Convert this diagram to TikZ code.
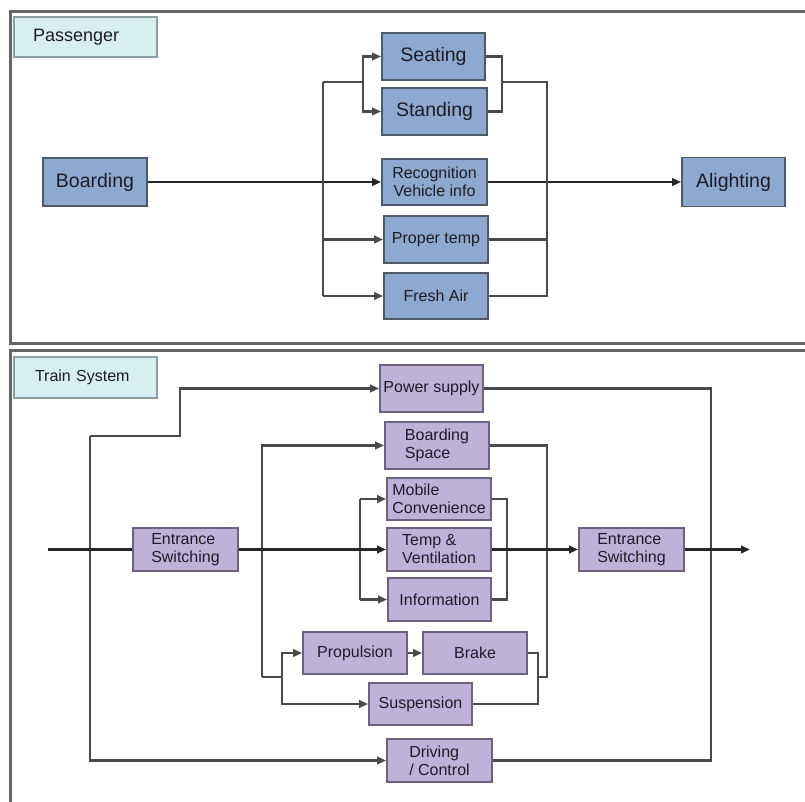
\documentclass[tikz,border=0pt]{standalone}
\usepackage{fontspec}
\setmainfont{Liberation Sans}
\usetikzlibrary{arrows.meta}

\definecolor{pfill}{HTML}{8FA8CF}
\definecolor{pedge}{HTML}{4E5A6C}
\definecolor{tfill}{HTML}{BFB2D8}
\definecolor{tedge}{HTML}{6C6280}
\definecolor{lfill}{HTML}{D7EEF3}
\definecolor{ledge}{HTML}{8B9EA4}
\definecolor{wire}{HTML}{4A4A4A}
\definecolor{frame}{HTML}{666666}
\definecolor{ink}{HTML}{1C1C28}

\tikzset{
  tip/.tip={Triangle[length=9pt,width=7.5pt]},
  box/.style={draw, line width=1.8pt, inner sep=0pt, text=ink, align=left},
  pbox/.style={box, fill=pfill, draw=pedge},
  tbox/.style={box, fill=tfill, draw=tedge, font=\fontsize{16}{18}\selectfont},
  bigtxt/.style={font=\fontsize{19.5}{22}\selectfont},
  midtxt/.style={font=\fontsize{16}{18}\selectfont, align=center},
  lblbox/.style={draw=ledge, fill=lfill, line width=1.6pt, inner sep=0pt,
    text=ink, minimum width=143pt, minimum height=40pt},
  conn/.style={draw=wire, line width=2.1pt},
  mainline/.style={draw=black!85, line width=2.7pt},
  panel/.style={draw=frame, line width=3pt}
}

\begin{document}
\begin{tikzpicture}[x=1pt, y=-1pt]
\clip (0,0) rectangle (805,802);
\fill[white] (0,0) rectangle (805,802);

% panel frames
\draw[panel] (10,12) rectangle (812,343);
\draw[panel] (10,350) rectangle (812,812);

% ---------------- Passenger ----------------
\node[lblbox, font=\fontsize{18}{20}\selectfont, text width=105pt, align=left] (plabel) at (85.5,37) {Passenger};

\node[pbox, bigtxt, minimum width=104pt, minimum height=48pt] (board) at (95,182) {Boarding};
\node[pbox, bigtxt, minimum width=103pt, minimum height=47pt] (seat) at (433.5,56.5) {Seating};
\node[pbox, bigtxt, minimum width=105pt, minimum height=47pt] (stand) at (434.5,111.5) {Standing};
\node[pbox, midtxt, minimum width=105pt, minimum height=46pt] (recog) at (434.5,182) {Recognition\\Vehicle info};
\node[pbox, midtxt, minimum width=104pt, minimum height=47pt] (ptemp) at (436,239.5) {Proper temp};
\node[pbox, midtxt, minimum width=104pt, minimum height=46pt] (fresh) at (436,296) {Fresh Air};
\node[pbox, bigtxt, minimum width=103pt, minimum height=49pt] (alight) at (733.5,182) {Alighting};

% junction points of the passenger buses
\coordinate (pbtop) at (323,82);
\coordinate (pbbot) at (323,296);
\coordinate (pfork) at (363,82);
\coordinate (pjoin) at (502,82);
\coordinate (prbot) at (547,296);

\draw[mainline,-tip] (board.east) -- (recog.west);
\draw[mainline,-tip] (recog.east) -- (alight.west);

\draw[conn] (pbtop) -- (pbbot);
\draw[conn] (pbtop) -- (pfork);
\draw[conn,-tip] (pfork) |- (seat.west);
\draw[conn,-tip] (pfork) |- (stand.west);
\draw[conn,-tip] (pbbot |- ptemp.west) -- (ptemp.west);
\draw[conn,-tip] (pbbot) -- (fresh.west);

\draw[conn] (seat.east) -| (pjoin) |- (stand.east);
\draw[conn] (pjoin) -| (prbot) -- (fresh.east);
\draw[conn] (ptemp.east) -- (ptemp.east -| prbot);

% ---------------- Train System ----------------
\node[lblbox, font=\fontsize{16}{18}\selectfont, text width=101pt, align=left, minimum height=41pt] (tlabel) at (85.5,377.5) {Train System};

\node[tbox, minimum width=103pt, minimum height=47pt] (power) at (431.5,388.5) {Power supply};
\node[tbox, minimum width=104pt, minimum height=47pt] (bspace) at (437,445.5) {Boarding\\Space};
\node[tbox, minimum width=104pt, minimum height=42pt] (mob) at (439,499) {Mobile\\Convenience};
\node[tbox, minimum width=104pt, minimum height=43pt] (tv) at (439,549.5) {Temp \&\\Ventilation};
\node[tbox, minimum width=103pt, minimum height=43pt] (info) at (439.5,599.5) {Information};
\node[tbox, minimum width=104pt, minimum height=42pt] (prop) at (355,653) {Propulsion};
\node[tbox, minimum width=104pt, minimum height=42pt] (brake) at (475,653) {Brake};
\node[tbox, minimum width=103pt, minimum height=42pt] (susp) at (420.5,704) {Suspension};
\node[tbox, minimum width=105pt, minimum height=43pt] (drive) at (439.5,760.5) {Driving\\/ Control};
\node[tbox, minimum width=105pt, minimum height=43pt] (esin) at (185.5,549.5) {Entrance\\Switching};
\node[tbox, minimum width=105pt, minimum height=43pt] (esout) at (631.5,549.5) {Entrance\\Switching};

% junction and end points of the train buses
\coordinate (tin) at (48,549.5);
\coordinate (tout) at (750,549.5);
\coordinate (o1) at (90,436);
\coordinate (o2) at (180,436);
\coordinate (o3) at (90,760.5);
\coordinate (o4) at (711,388.5);
\coordinate (b1) at (262,445.5);
\coordinate (b2) at (262,677);
\coordinate (b3) at (282,677);
\coordinate (b4) at (538,677);
\coordinate (b5) at (547,677);
\coordinate (c1) at (360,499);
\coordinate (c2) at (360,599.5);
\coordinate (c4) at (507,599.5);

% outer loop: power supply and driving / control
\draw[conn,-tip] (o1) -- (o2) |- (power.west);
\draw[conn,-tip] (o1) -- (o3) -- (drive.west);
\draw[conn] (power.east) -- (o4) |- (drive.east);

% boarding space, propulsion, brake, suspension
\draw[conn,-tip] (b2) -- (b1) -- (bspace.west);
\draw[conn] (b2) -- (b3);
\draw[conn,-tip] (b3) |- (prop.west);
\draw[conn,-tip] (b3) |- (susp.west);
\draw[conn,-tip] (prop.east) -- (brake.west);
\draw[conn] (brake.east) -| (b4) |- (susp.east);
\draw[conn] (b4) -- (b5) |- (bspace.east);

% mobile convenience, temp & ventilation, information
\draw[conn,-tip] (c1) -- (mob.west);
\draw[conn] (c1) -- (c2);
\draw[conn,-tip] (c2) -- (info.west);
\draw[conn] (mob.east) -| (c4) -- (info.east);

% main flow
\draw[mainline] (tin) -- (esin.west);
\draw[mainline,-tip] (esin.east) -- (tv.west);
\draw[mainline,-tip] (tv.east) -- (esout.west);
\draw[mainline,-tip] (esout.east) -- (tout);
\end{tikzpicture}
\end{document}
